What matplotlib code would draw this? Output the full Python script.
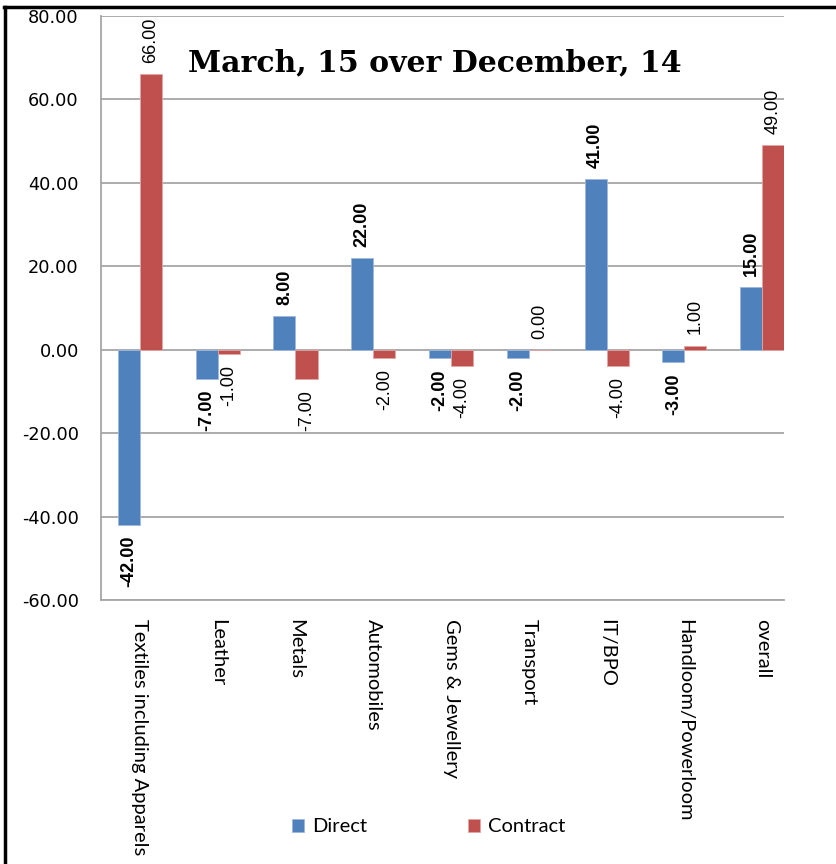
import matplotlib
matplotlib.use('Agg')
import matplotlib.pyplot as plt
import numpy as np
from matplotlib.lines import Line2D

categories = ['Textiles including Apparels', 'Leather', 'Metals', 'Automobiles',
              'Gems & Jewellery', 'Transport', 'IT/BPO', 'Handloom/Powerloom', 'overall']
direct = [-42.0, -7.0, 8.0, 22.0, -2.0, -2.0, 41.0, -3.0, 15.0]
contract = [66.0, -1.0, -7.0, -2.0, -4.0, 0.0, -4.0, 1.0, 49.0]
yticks = [-60, -40, -20, 0, 20, 40, 60, 80]

BLUE = '#4F81BD'
RED = '#C0504D'
GRID = '#A6A6A6'
NARROW = ['Liberation Sans Narrow', 'Liberation Sans', 'DejaVu Sans']


def main():
    fig = plt.figure(figsize=(8.37, 8.64), dpi=100)
    ax = fig.add_axes([0.1207, 0.3056, 0.816, 0.6759])

    x = np.arange(len(categories))
    w = 0.283
    ax.bar(x - w / 2, direct, w, color=BLUE, edgecolor='#9DB9DE', linewidth=0.6,
           label='Direct', zorder=3)
    ax.bar(x + w / 2, contract, w, color=RED, edgecolor='#E3A5A3', linewidth=0.6,
           label='Contract', zorder=3)

    # value labels: bold for Direct, regular for Contract
    for vals, off, weight in [(direct, -w / 2, 'bold'), (contract, w / 2, 'normal')]:
        for xi, v in zip(x, vals):
            up = v >= 0
            ax.annotate('%.2f' % v, (xi + off, v), xytext=(0, 8 if up else -8),
                        textcoords='offset points', rotation=90,
                        ha='center', va='bottom' if up else 'top',
                        fontsize=13, fontweight=weight, family=NARROW,
                        color='black', zorder=4)

    ax.set_xlim(-0.5, 8.28)
    ax.set_ylim(-60, 80)
    ax.set_yticks(yticks)
    ax.set_yticklabels(['%.2f' % t for t in yticks])
    ax.yaxis.grid(True, color=GRID, linewidth=1.3, zorder=0)
    ax.set_axisbelow(True)

    ax.set_xticks(x)
    ax.set_xticklabels(categories, rotation=270, ha='center', va='top',
                       fontsize=14.5, family=['Lato', 'DejaVu Sans'])
    ax.tick_params(axis='x', length=0, pad=14)
    ax.tick_params(axis='y', length=0, pad=16, labelsize=12.8)

    for s in ['top', 'right']:
        ax.spines[s].set_visible(False)
    for s in ['left', 'bottom']:
        ax.spines[s].set_color(GRID)
        ax.spines[s].set_linewidth(1.3)

    fig.text(0.519, 0.927, 'March, 15 over December, 14', ha='center', va='center',
             fontsize=21.5, fontweight='heavy', family=['DejaVu Serif'])

    fig.legend(loc='center', bbox_to_anchor=(0.512, 0.043), ncol=2, frameon=False,
               handlelength=0.6, handleheight=0.6, handletextpad=0.4,
               columnspacing=5.0, prop={'family': ['Lato', 'DejaVu Sans'], 'size': 14.5})

    # outer frame (left and top edges)
    fig.add_artist(Line2D([4 / 837, 1], [1 - 6.5 / 864, 1 - 6.5 / 864],
                          transform=fig.transFigure, color='black', linewidth=2.5))
    fig.add_artist(Line2D([5 / 837, 5 / 837], [0, 1 - 6.5 / 864],
                          transform=fig.transFigure, color='black', linewidth=2.5))

    fig.savefig('out.png', dpi=100)


if __name__ == '__main__':
    main()
